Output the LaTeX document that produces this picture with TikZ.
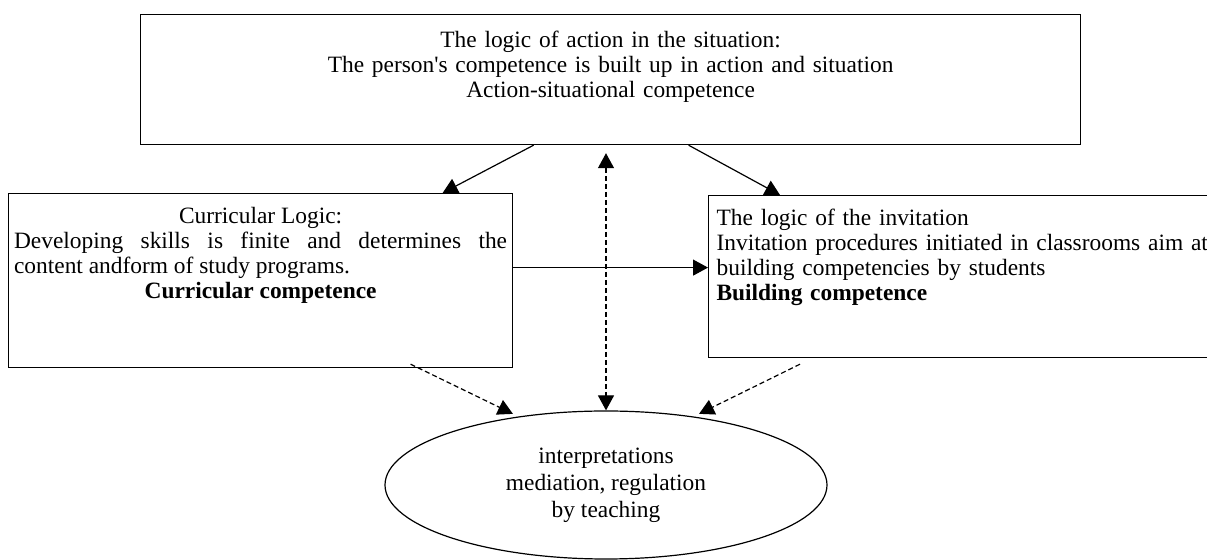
\documentclass[tikz,border=0pt]{standalone}
\usepackage{fontspec}
\setmainfont{Liberation Serif}
\usepackage{tikz}
\usetikzlibrary{arrows.meta}
\usetikzlibrary{shapes}

\begin{document}
\begin{tikzpicture}[x=0.5pt,y=-0.5pt,line width=0.6pt,
  font=\fontsize{11.7}{12.5}\selectfont,
  >={Triangle[length=7.5pt,width=8pt]},
  box/.style={draw,rectangle,anchor=north west,inner ysep=6pt,text height=9pt},
  linkdash/.style={dash pattern=on 2.5pt off 1.5pt}]
  \useasboundingbox (0,0) rectangle (1207,560);
  % the three logics
  \node[box,inner xsep=5pt,inner ysep=8.5pt,text height=8pt,text depth=40pt,
    text width=460pt,align=center] (act) at (140,14)
    {The logic of action in the situation:\\
     The person\textquotesingle s competence is built up in action and situation\\
     Action-situational competence};
  \node[box,inner xsep=2.75pt,text depth=66pt,text width=246.5pt,align=justify] (curr) at (8,193)
    {{\centering Curricular Logic:\par}
     Developing skills is finite and determines the\linebreak content andform of study programs.\par
     {\centering\bfseries Curricular competence\par}};
  \node[box,inner xsep=4pt,text depth=60pt,text width=252pt,align=left] (invit) at (708,195)
    {The logic of the invitation\\
     Invitation procedures initiated in classrooms aim at\\
     building competencies by students\\
     \textbf{Building competence}};
  \node[draw,ellipse,minimum width=221pt,minimum height=74pt,inner sep=0pt,
    align=center,font=\fontsize{11.7}{13.5}\selectfont] (teach) at (606,485)
    {interpretations\\mediation, regulation\\by teaching};

  \coordinate (mid) at ([yshift=6.5pt]curr.east);
  \coordinate (up) at ([yshift=-4pt]act.south);
  \path[->]
  ([xshift=-38.5pt]act.south) edge ([xshift=91pt]curr.north)
  ([xshift=39pt]act.south) edge ([xshift=36pt]invit.north west)
  (mid) edge (mid -| invit.west);
  \path[->,linkdash]
  (teach.north |- up) edge[<->] (teach.north)
  ([xshift=75pt,yshift=2pt]curr.south) edge[shorten >=3pt] (teach.142)
  ([xshift=46pt,yshift=-3pt]invit.south west) edge[shorten >=3pt] (teach.38);
\end{tikzpicture}
\end{document}
